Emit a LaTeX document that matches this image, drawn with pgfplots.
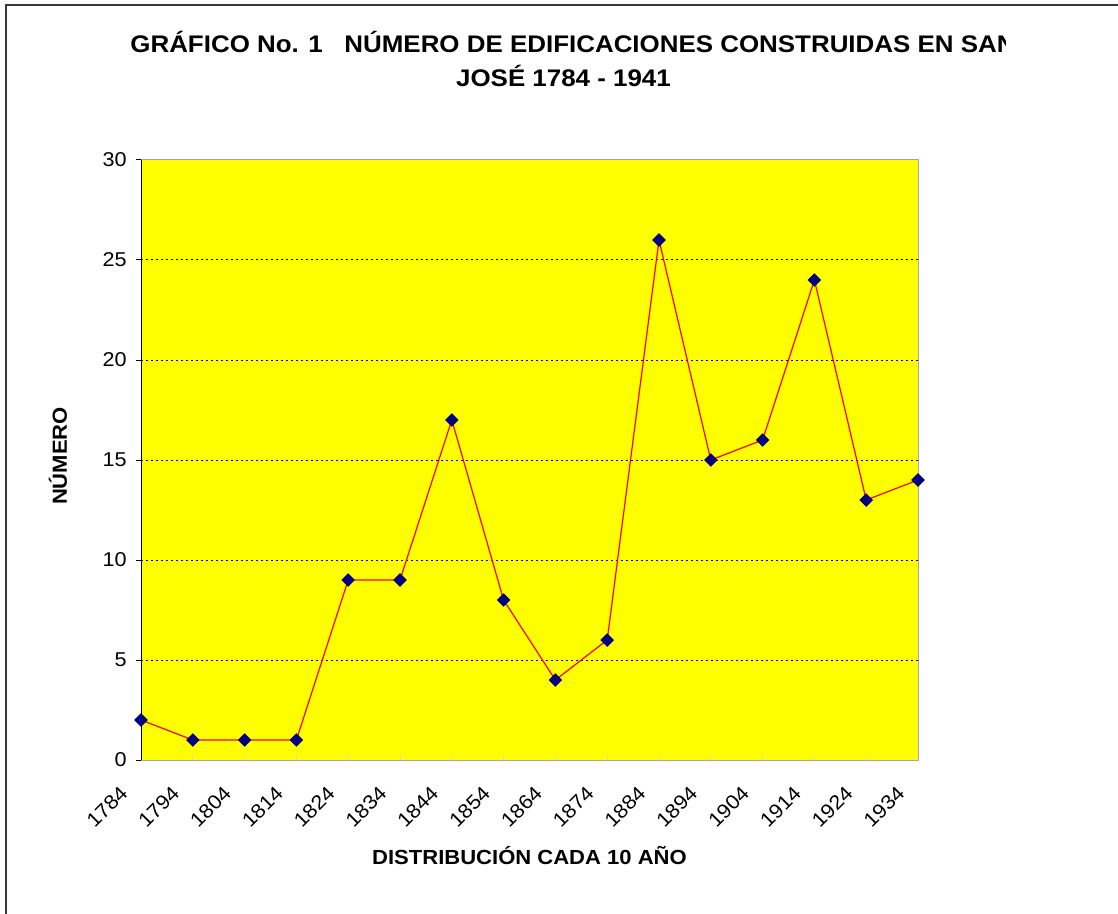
\documentclass[border=0pt]{standalone}
\usepackage{fontspec}
\setmainfont[FakeStretch=1.08]{Liberation Sans}
\usepackage{pgfplots}
\pgfplotsset{compat=1.18}
\definecolor{navymark}{RGB}{0,0,128}
\definecolor{plotyellow}{RGB}{255,255,0}
\begin{document}
\begin{tikzpicture}[x=0.5pt,y=-0.5pt]
\path[use as bounding box] (0,0) rectangle (1118,914);
\clip (0,0) rectangle (1118,914);
\draw[line width=1pt, black!78] (6,5) rectangle (1300,1100);
\begin{scope}
\clip (0,0) rectangle (1005,914);
\node[anchor=base west, inner sep=0pt, font=\fontsize{12}{14}\selectfont\bfseries] at (130,53) {GRÁFICO No. 1\ \ \ NÚMERO DE EDIFICACIONES CONSTRUIDAS EN SAN};
\end{scope}
\node[anchor=base, inner sep=0pt, font=\fontsize{12}{14}\selectfont\bfseries] at (563.5,87) {JOSÉ 1784 - 1941};
\node[anchor=base, inner sep=0pt, font=\fontsize{10.2}{12}\selectfont\bfseries] at (529.5,864) {DISTRIBUCIÓN CADA 10 AÑO};
\node[inner sep=0pt, rotate=90, font=\fontsize{10.2}{12}\selectfont\bfseries] at (58,456) {NÚMERO};
\begin{axis}[
  at={(70.5pt,-380pt)}, anchor=south west,
  scale only axis, width=388.5pt, height=300pt,
  xmin=0, xmax=15, ymin=0, ymax=30,
  clip=false,
  axis background/.style={fill=plotyellow},
  axis line style={draw=black!35, line width=0.5pt},
  xtick={0,...,15},
  xticklabels={1784,1794,1804,1814,1824,1834,1844,1854,1864,1874,1884,1894,1904,1914,1924,1934},
  ytick={5,10,...,30},
  extra y ticks={0},
  extra tick style={grid=none},
  xtick pos=bottom, ytick pos=left,
  ymajorgrids,
  major grid style={black, line width=0.5pt, dash pattern=on 1pt off 1.5pt},
  tick align=outside,
  major tick length=2.5pt,
  y tick style={black, line width=0.5pt},
  x tick style={draw=white!85!black, line width=0.5pt, yshift=2.5pt},
  /pgf/number format/assume math mode=true,
  tick label style={font=\fontsize{10}{12}\selectfont},
  yticklabel style={xshift=-1.2pt},
  xticklabel style={xshift=-6pt, yshift=-10pt, rotate=45, anchor=east},
]
\addplot[red, line width=0.6pt, mark=square*, mark size=2.1pt,
  mark options={rotate=45, fill=navymark, draw=navymark, solid}]
  coordinates {
  (0,2) (1,1) (2,1) (3,1) (4,9) (5,9) (6,17) (7,8) (8,4) (9,6)
  (10,26) (11,15) (12,16) (13,24) (14,13) (15,14)
  };
\draw[black, line width=0.5pt] (rel axis cs:0,0) -- (rel axis cs:0,1);
\end{axis}
\end{tikzpicture}
\end{document}
